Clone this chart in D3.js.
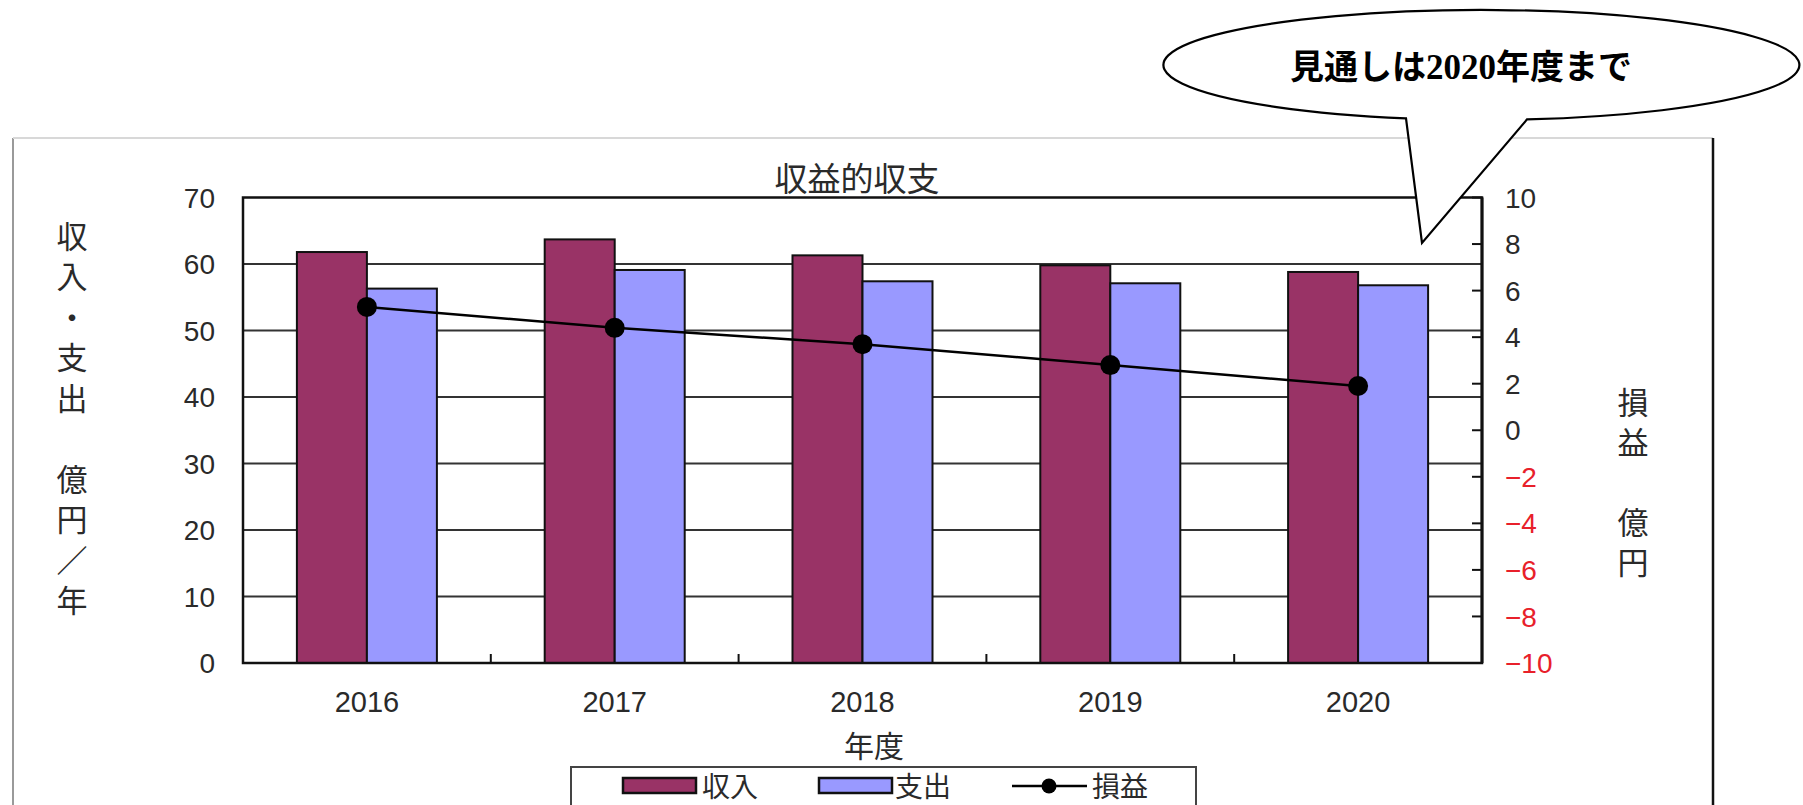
<!DOCTYPE html>
<html lang="ja">
<head>
<meta charset="utf-8">
<script src="https://cdn.jsdelivr.net/npm/d3@7/dist/d3.min.js"></script>
<style>
  html, body { margin: 0; padding: 0; background: #fff; }
  svg { display: block; }
  .jp { font-family: "Noto Sans CJK JP", "Noto Sans", sans-serif; }
  .num { font-family: "Liberation Sans", Arial, sans-serif; }
</style>
</head>
<body>
<svg id="chart" width="1803" height="805"></svg>
<script>
// Fiscal years and series (億円)
const years = ["2016", "2017", "2018", "2019", "2020"];
const revenue = [61.8, 63.7, 61.3, 59.8, 58.8];   // 収入
const expense = [56.3, 59.1, 57.4, 57.1, 56.8];   // 支出
const profit = [5.3, 4.4, 3.7, 2.8, 1.9];         // 損益 (right axis)
const leftTicks = [0, 10, 20, 30, 40, 50, 60, 70];
const rightTicks = [-10, -8, -6, -4, -2, 0, 2, 4, 6, 8, 10];
const seriesNames = ["収入", "支出", "損益"];
const colors = { "収入": "#993366", "支出": "#9999ff" };

const svg = d3.select("#chart");
const plot = { left: 243, right: 1482, top: 197.5, bottom: 663 };

// Outer chart frame
svg.append("line").attr("x1", 13).attr("x2", 13).attr("y1", 138).attr("y2", 805)
  .attr("stroke", "#9a9a9a").attr("stroke-width", 2);
svg.append("line").attr("x1", 13).attr("x2", 1713).attr("y1", 138).attr("y2", 138)
  .attr("stroke", "#d8d8d8").attr("stroke-width", 2);
svg.append("line").attr("x1", 1713).attr("x2", 1713).attr("y1", 138).attr("y2", 805)
  .attr("stroke", "#111").attr("stroke-width", 2.5);

// Scales
const x = d3.scaleBand().domain(years).range([plot.left, plot.right]).paddingInner(0).paddingOuter(0);
const xs = d3.scaleBand().domain(["収入", "支出"]).range([0, x.bandwidth()]).paddingInner(0).paddingOuter(0.77);
const y = d3.scaleLinear().domain([0, 70]).range([plot.bottom, plot.top]);
const y2 = d3.scaleLinear().domain([-10, 10]).range([plot.bottom, plot.top]);

// Gridlines
svg.append("g").selectAll("line").data(leftTicks.filter(d => d > 0 && d < 70)).join("line")
  .attr("x1", plot.left).attr("x2", plot.right)
  .attr("y1", d => y(d)).attr("y2", d => y(d))
  .attr("stroke", "#333").attr("stroke-width", 2);

// Bars
const rows = years.map((yr, i) => ({ year: yr, values: [["収入", revenue[i]], ["支出", expense[i]]] }));
svg.append("g").selectAll("g").data(rows).join("g")
  .attr("transform", d => `translate(${x(d.year)},0)`)
  .selectAll("rect").data(d => d.values).join("rect")
  .attr("x", d => xs(d[0])).attr("width", xs.bandwidth())
  .attr("y", d => y(d[1])).attr("height", d => y(0) - y(d[1]))
  .attr("fill", d => colors[d[0]])
  .attr("stroke", "#111").attr("stroke-width", 2);

// Plot area border
svg.append("rect").attr("x", plot.left).attr("y", plot.top)
  .attr("width", plot.right - plot.left).attr("height", plot.bottom - plot.top)
  .attr("fill", "none").attr("stroke", "#111").attr("stroke-width", 2.5);

// Category boundary ticks (inside)
svg.append("g").selectAll("line").data(years.slice(1)).join("line")
  .attr("x1", d => x(d)).attr("x2", d => x(d))
  .attr("y1", plot.bottom).attr("y2", plot.bottom - 9)
  .attr("stroke", "#111").attr("stroke-width", 2);

// Right axis ticks (inside)
svg.append("g").selectAll("line").data(rightTicks).join("line")
  .attr("x1", plot.right - 10).attr("x2", plot.right)
  .attr("y1", d => y2(d)).attr("y2", d => y2(d))
  .attr("stroke", "#111").attr("stroke-width", 2);
svg.append("line").attr("x1", plot.right).attr("x2", plot.right)
  .attr("y1", plot.top).attr("y2", plot.bottom)
  .attr("stroke", "#111").attr("stroke-width", 3);

// Left tick labels
svg.append("g").selectAll("text").data(leftTicks).join("text")
  .attr("class", "num")
  .attr("x", 215).attr("y", d => y(d)).attr("dy", "0.36em")
  .attr("text-anchor", "end").attr("font-size", 28).attr("fill", "#2a2a2a")
  .text(d => d);

// Right tick labels (negative in red)
svg.append("g").selectAll("text").data(rightTicks).join("text")
  .attr("class", "num")
  .attr("x", 1505).attr("y", d => y2(d)).attr("dy", "0.36em")
  .attr("text-anchor", "start").attr("font-size", 28)
  .attr("fill", d => d < 0 ? "#e8202a" : "#2a2a2a")
  .text(d => d < 0 ? "\u2212" + Math.abs(d) : d);

// Category labels
svg.append("g").selectAll("text").data(years).join("text")
  .attr("class", "num")
  .attr("x", d => x(d) + x.bandwidth() / 2).attr("y", 702).attr("dy", "0.36em")
  .attr("text-anchor", "middle").attr("font-size", 29).attr("fill", "#2a2a2a")
  .text(d => d);

// Profit line with markers
const line = d3.line().x((d, i) => x(years[i]) + x.bandwidth() / 2).y(d => y2(d));
svg.append("path").datum(profit).attr("d", line)
  .attr("fill", "none").attr("stroke", "#000").attr("stroke-width", 2.5);
svg.append("g").selectAll("circle").data(profit).join("circle")
  .attr("cx", (d, i) => x(years[i]) + x.bandwidth() / 2).attr("cy", d => y2(d))
  .attr("r", 10).attr("fill", "#000");

// Title
svg.append("text").attr("class", "jp")
  .attr("x", 857).attr("y", 179).attr("dy", "0.36em")
  .attr("text-anchor", "middle").attr("font-size", 33).attr("fill", "#2a2a2a")
  .text("収益的収支");

// Vertical axis titles (top-to-bottom writing)
function verticalTitle(str, cx, top, size, spacing) {
  svg.append("text").attr("class", "jp")
    .attr("x", cx).attr("y", top)
    .attr("writing-mode", "vertical-rl")
    .style("text-orientation", "upright")
    .attr("font-size", size).attr("letter-spacing", spacing)
    .attr("fill", "#2a2a2a")
    .text(str);
}
verticalTitle("収入・支出\u3000億円／年", 72, 220.5, 31, 9.5);
verticalTitle("損益\u3000億円", 1633, 386.5, 31, 9);

// X axis title
svg.append("text").attr("class", "jp")
  .attr("x", 874).attr("y", 746).attr("dy", "0.36em")
  .attr("text-anchor", "middle").attr("font-size", 30).attr("fill", "#2a2a2a")
  .text("年度");

// Legend
const lg = svg.append("g");
lg.append("rect").attr("x", 571).attr("y", 767).attr("width", 625).attr("height", 60)
  .attr("fill", "#fff").attr("stroke", "#444").attr("stroke-width", 2);
const legendItems = [
  { name: seriesNames[0], sx: 623, tx: 702 },
  { name: seriesNames[1], sx: 819, tx: 895 },
  { name: seriesNames[2], sx: 1012, tx: 1092 }
];
legendItems.forEach(it => {
  if (it.name === "損益") {
    lg.append("line").attr("x1", it.sx).attr("x2", it.sx + 75).attr("y1", 786).attr("y2", 786)
      .attr("stroke", "#000").attr("stroke-width", 2.5);
    lg.append("circle").attr("cx", it.sx + 37).attr("cy", 786).attr("r", 7.5).attr("fill", "#000");
  } else {
    lg.append("rect").attr("x", it.sx).attr("y", 778).attr("width", 73).attr("height", 15)
      .attr("fill", colors[it.name]).attr("stroke", "#111").attr("stroke-width", 2.5);
  }
  lg.append("text").attr("class", "jp")
    .attr("x", it.tx).attr("y", 787).attr("dy", "0.36em")
    .attr("font-size", 28).attr("fill", "#2a2a2a").text(it.name);
});

// Speech-bubble note
svg.append("path")
  .attr("d", "M1406,118.4 A318,55 0 1 1 1527,119.4 L1422,243 Z")
  .attr("fill", "#fff").attr("stroke", "#000").attr("stroke-width", 2.2)
  .attr("stroke-linejoin", "miter");
const note = svg.append("text").attr("class", "jp")
  .attr("x", 1461).attr("y", 67).attr("dy", "0.36em")
  .attr("text-anchor", "middle").attr("font-size", 34).attr("font-weight", "bold").attr("fill", "#000");
note.append("tspan").text("見通しは");
note.append("tspan").attr("font-family", "'Liberation Serif', serif").attr("font-size", 35).text("2020");
note.append("tspan").text("年度まで");
</script>
</body>
</html>
